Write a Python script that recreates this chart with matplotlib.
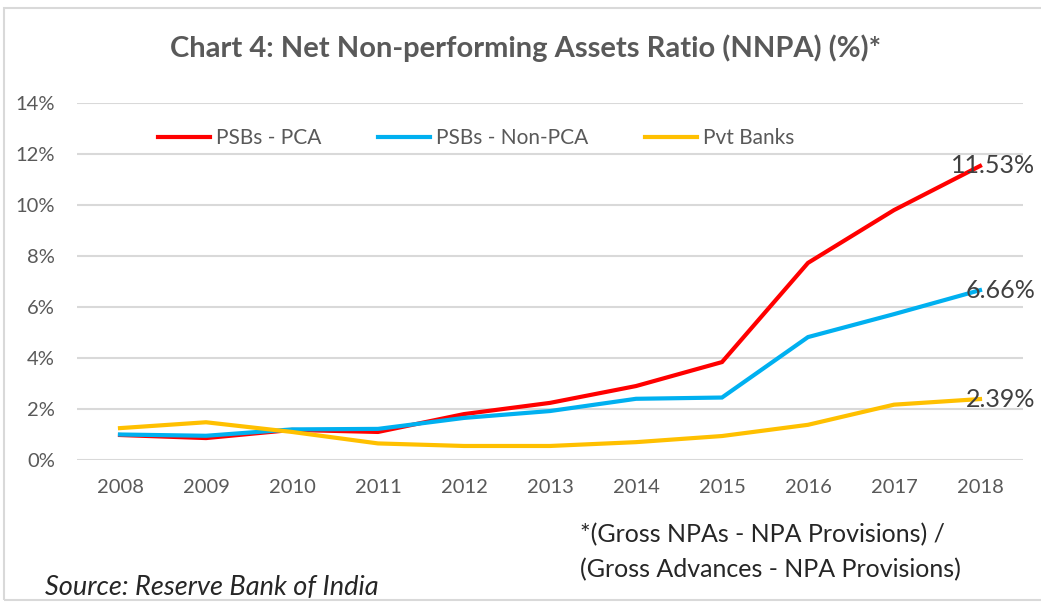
import matplotlib.pyplot as plt
from matplotlib.patches import Rectangle

plt.rcParams['font.family'] = ['Lato', 'DejaVu Sans']

years = [2008, 2009, 2010, 2011, 2012, 2013, 2014, 2015, 2016, 2017, 2018]
psb_pca = [0.98, 0.86, 1.18, 1.10, 1.80, 2.24, 2.90, 3.84, 7.73, 9.80, 11.53]
psb_non_pca = [1.00, 0.95, 1.20, 1.22, 1.65, 1.92, 2.40, 2.45, 4.82, 5.72, 6.66]
pvt_banks = [1.25, 1.48, 1.10, 0.65, 0.55, 0.55, 0.70, 0.94, 1.38, 2.17, 2.39]

series = [("PSBs - PCA", psb_pca, "#FF0000"),
          ("PSBs - Non-PCA", psb_non_pca, "#00B0F0"),
          ("Pvt Banks", pvt_banks, "#FFC000")]

fig = plt.figure(figsize=(10.41, 6.06), dpi=100)
ax = fig.add_axes([77/1041, 1-460/606, (1023-77)/1041, (460-103)/606])

x = list(range(len(years)))
for name, vals, col in series:
    ax.plot(x, vals, color=col, lw=3, label=name, solid_joinstyle='miter')
    ax.text(x[-1] + 0.64, vals[-1], f"{vals[-1]:.2f}%", ha='right', va='center',
            fontsize=18, color='#404040', clip_on=False)

ax.set_xlim(-0.5, len(years) - 0.5)
ax.set_ylim(0, 14)
ax.set_yticks(range(0, 15, 2))
ax.set_yticklabels([f"{v}%" for v in range(0, 15, 2)])
ax.set_xticks(x)
ax.set_xticklabels([str(y) for y in years])
ax.tick_params(length=0, labelsize=14.5, colors='#595959')
ax.tick_params(axis='y', pad=16)
ax.tick_params(axis='x', pad=14)
ax.grid(axis='y', color='#D9D9D9', lw=1.5)
ax.set_axisbelow(True)
for s in ax.spines.values():
    s.set_visible(False)

ax.legend(loc='center left', bbox_to_anchor=((158-77)/946, (460-138)/357), ncol=3,
          frameon=False, fontsize=15, handlelength=2.5, handletextpad=0.3,
          columnspacing=2.7, borderpad=0, borderaxespad=0, labelcolor='#595959')

fig.text(0.505, 1-48/606, "Chart 4: Net Non-performing Assets Ratio (NNPA) (%)*",
         ha='center', va='center', fontsize=21, fontweight='bold', color='#595959')
fig.text(580/1041, 1-535/606, "*(Gross NPAs - NPA Provisions) /", ha='left',
         va='center', fontsize=18, color='#262626')
fig.text(580/1041, 1-570/606, "(Gross Advances - NPA Provisions)", ha='left',
         va='center', fontsize=18, color='#262626')
fig.text(45/1041, 1-587/606, "Source: Reserve Bank of India", ha='left',
         va='center', fontsize=19.5, style='italic', color='#262626')

fig.patches.append(Rectangle((4/1041, 1-600/606), 1.1, 592/606, transform=fig.transFigure,
                             fill=False, ec='#D9D9D9', lw=1.5))

fig.savefig("out.png", dpi=100)
